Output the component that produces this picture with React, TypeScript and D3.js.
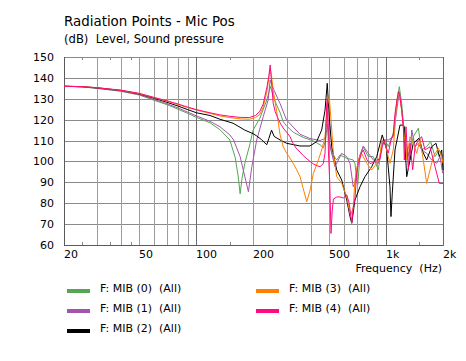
import React from "react";
import * as d3 from "d3";

// curve data (Hz / dB)
const mib0Freq = [20, 25, 30, 40, 50, 60, 70, 80, 90, 100, 118, 133, 150, 160, 166, 170, 174, 180, 192, 199, 216, 235, 241, 245, 249, 257, 265, 276, 287, 299, 324, 366, 414, 449, 467, 480, 490, 500, 517, 550, 572, 621, 672, 686, 700, 710, 730, 759, 807, 858, 911, 950, 988, 1029, 1093, 1140, 1176, 1211, 1261, 1287, 1339, 1394, 1482, 1544, 1640, 1722, 1814, 1912, 2000];
const mib0Level = [136, 135.7, 135, 133.6, 131.8, 129.2, 127.2, 125, 123, 121.1, 118.5, 115.2, 110.3, 102, 93, 84.5, 92, 99.1, 108.7, 115, 120.7, 129.4, 133, 136, 134, 130, 127, 123.5, 119, 117, 114, 111.5, 109.8, 108, 106.5, 110, 118, 110, 103.9, 100.7, 103.1, 101.5, 100.7, 99, 92, 89, 103, 106.8, 102.3, 102.3, 95.9, 107.1, 110.3, 107.1, 113.5, 127.8, 135.8, 127.8, 108.7, 100.7, 105.5, 111.8, 115.9, 105.5, 107.1, 109.5, 102.3, 105.5, 102.3];

const mib1Freq = [20, 25, 30, 40, 50, 60, 70, 80, 90, 100, 118, 133, 150, 157, 170, 180, 188, 196, 208, 225, 239, 245, 249, 257, 276, 299, 352, 397, 449, 477, 490, 502, 517, 538, 561, 584, 621, 646, 672, 686, 715, 759, 807, 858, 911, 968, 1029, 1093, 1140, 1176, 1211, 1250, 1287, 1339, 1368, 1424, 1482, 1544, 1640, 1744, 1853, 1929, 1993];
const mib1Level = [136, 135.7, 135, 133.7, 132, 129.6, 127.6, 125.6, 123.6, 121.8, 119.2, 116.6, 112.7, 110.3, 102.3, 92.7, 85.5, 97.5, 110.3, 121.4, 129.4, 139, 137, 134, 127.8, 119.8, 113, 111, 110, 111, 124, 110, 104, 97.5, 100.7, 103.9, 102.3, 99.1, 87.9, 89.5, 100.7, 107.4, 103.9, 100.7, 99.1, 110.3, 110.3, 111.8, 124.6, 133.4, 124.6, 111.8, 107.1, 100.7, 115.1, 107.1, 108.7, 105.5, 103.9, 100.7, 99.1, 102.3, 94.3];

const mib2Freq = [20, 25, 30, 40, 50, 60, 70, 80, 90, 100, 118, 133, 156, 180, 199, 208, 220, 235, 241, 249, 257, 276, 299, 352, 397, 431, 458, 477, 490, 502, 517, 550, 584, 621, 646, 660, 686, 730, 775, 841, 894, 956, 1009, 1050, 1063, 1080, 1116, 1186, 1235, 1250, 1261, 1287, 1339, 1394, 1494, 1563, 1640, 1744, 1838, 1912, 1969, 2000];
const mib2Level = [136, 135.8, 135.2, 134, 132.3, 130.2, 128.3, 126.5, 124.8, 123.3, 122, 120.2, 118.3, 115, 113.3, 112.2, 110.5, 108, 111, 115, 112, 110.3, 108.7, 107.4, 107.4, 109.5, 115.1, 124.6, 137.4, 121.4, 107.1, 95.9, 91.1, 81.5, 73.6, 70.4, 81.5, 87.9, 92.7, 97.5, 102.3, 112.7, 105.5, 87.9, 73.6, 84.8, 105.5, 117.4, 117.4, 116.6, 107.1, 92.7, 100.7, 108.7, 111.1, 104.7, 100.7, 107.1, 108.7, 102.3, 105.5, 95.9];

const mib3Freq = [20, 25, 30, 40, 50, 60, 70, 80, 90, 100, 118, 133, 150, 170, 190, 205, 216, 225, 236, 241, 245, 249, 254, 265, 276, 287, 299, 312, 324, 338, 352, 366, 382, 398, 414, 440, 458, 477, 490, 502, 513, 528, 550, 584, 621, 650, 672, 686, 715, 743, 792, 841, 894, 930, 950, 988, 1029, 1050, 1093, 1140, 1174, 1211, 1250, 1276, 1287, 1339, 1394, 1453, 1512, 1574, 1640, 1708, 1778, 1889, 1969, 2000];
const mib3Level = [136, 135.8, 135.3, 134, 132.4, 130.5, 128.8, 127.2, 125.8, 124.6, 123, 121.8, 121, 120.4, 120.2, 121, 122.5, 126, 134, 140, 144.5, 141, 134, 124, 113, 107, 104, 101.5, 99, 96, 92.7, 87, 80.7, 86.3, 94.3, 100.7, 105.5, 111.8, 126.2, 131, 119.8, 103.9, 92.7, 89.5, 83.1, 74, 78, 91.1, 100.7, 103.9, 99.1, 95.9, 99.1, 102.3, 110.3, 108.7, 102.3, 99.1, 105.5, 129.4, 132.6, 124.6, 111.8, 107, 100.7, 111.8, 108.7, 103.9, 110.3, 100.7, 89.5, 95.9, 102.3, 106.3, 102.3, 99.1];

const mib4Freq = [20, 25, 30, 40, 50, 60, 70, 80, 90, 100, 118, 133, 150, 170, 190, 205, 216, 225, 236, 241, 245, 249, 254, 260, 268, 276, 287, 299, 312, 324, 338, 352, 366, 382, 398, 414, 431, 449, 467, 477, 487, 492, 497, 505, 513, 520, 528, 550, 573, 596, 621, 640, 660, 672, 686, 700, 715, 743, 759, 792, 824, 858, 894, 930, 956, 980, 1009, 1029, 1063, 1093, 1116, 1162, 1186, 1211, 1235, 1250, 1276, 1312, 1339, 1384, 1424, 1482, 1544, 1607, 1708, 1778, 1853, 1912, 2000];
const mib4Level = [136, 135.8, 135.3, 134.1, 132.6, 130.6, 129, 127.5, 126, 124.8, 123.3, 122.3, 121.6, 121.1, 121, 122, 124, 127.5, 136, 141, 146.2, 138, 128, 124, 121, 118.5, 116, 114, 111.8, 108.5, 106, 104.5, 102.8, 101.3, 100, 98.8, 98, 97.5, 99, 104, 128, 130, 105, 90, 65.5, 76, 82, 83, 83, 82.5, 84, 80, 70.5, 78, 82, 94, 99, 104, 105.5, 101, 99, 99.5, 100.7, 101, 107, 110, 106, 104, 110, 113, 123, 133.4, 131, 124.6, 116.6, 100.7, 116.6, 96, 108.7, 96, 107, 110.3, 111.8, 105.5, 107, 100.7, 94.3, 89.5, 89.5];

const seriesNames = ["F: MIB (0)  (All)", "F: MIB (1)  (All)", "F: MIB (2)  (All)", "F: MIB (3)  (All)", "F: MIB (4)  (All)"];
const seriesColors = ["#55a555", "#a454ac", "#000000", "#ff8000", "#ff0a80"];

const yTicks = [60, 70, 80, 90, 100, 110, 120, 130, 140, 150];
const xTickValues = [20, 50, 100, 200, 500, 1000, 2000];
const xTickLabels = ["20", "50", "100", "200", "500", "1k", "2k"];
const xMinorGrid = [30, 40, 50, 60, 70, 80, 90, 200, 300, 400, 500, 600, 700, 800, 900, 2000];
const xMajorGrid = [100, 1000];
const xSmallTicks = [25, 35, 45, 150, 1500];

const W = 466;
const H = 361;
const left = 64, right = 443, top = 57, bottom = 245;
const font = "'DejaVu Sans', Verdana, sans-serif";

export default function App() {
  const x = d3.scaleLog().domain([20, 2000]).range([left, right]);
  const y = d3.scaleLinear().domain([60, 150]).range([bottom, top]);
  const px = (v: number) => Math.round(x(v)) + 0.5;
  const py = (v: number) => Math.round(y(v)) + 0.5;

  const series = [
    { f: mib0Freq, l: mib0Level },
    { f: mib1Freq, l: mib1Level },
    { f: mib2Freq, l: mib2Level },
    { f: mib3Freq, l: mib3Level },
    { f: mib4Freq, l: mib4Level },
  ];

  const line = d3
    .line<[number, number]>()
    .x((d) => x(d[0]))
    .y((d) => y(d[1]));

  // legend slots: two columns
  const legendPos = [
    [67, 289], [67, 309], [67, 329],
    [256, 289], [256, 309],
  ];

  return (
    <svg
      width={W}
      height={H}
      style={{ position: "absolute", left: 0, top: 0, background: "#fff" }}
      fontFamily={font}
    >
      <rect x={0} y={0} width={W} height={H} fill="#fff" />
      <text x={64} y={26} fontSize={13.4} fill="#000">Radiation Points - Mic Pos</text>
      <text x={64} y={43} fontSize={11.6} fill="#000" style={{ whiteSpace: "pre" }}>
        (dB)  Level, Sound pressure
      </text>

      <defs>
        <clipPath id="plot">
          <rect x={left} y={top} width={right - left + 1} height={bottom - top + 1} />
        </clipPath>
      </defs>

      {/* grid */}
      {yTicks.map((t) => (
        <line key={"h" + t} x1={left} x2={right + 1} y1={py(t)} y2={py(t)} stroke="#8a8a8a" />
      ))}
      {xMinorGrid.map((t) => (
        <line key={"v" + t} x1={px(t)} x2={px(t)} y1={top} y2={bottom + 1} stroke="#9c9c9c" />
      ))}
      {xMajorGrid.map((t) => (
        <line key={"m" + t} x1={px(t)} x2={px(t)} y1={top} y2={bottom + 1} stroke="#6a6a6a" />
      ))}
      {xSmallTicks.map((t) => (
        <g key={"t" + t}>
          <line x1={px(t)} x2={px(t)} y1={top} y2={top + 3} stroke="#8a8a8a" />
          <line x1={px(t)} x2={px(t)} y1={bottom - 3} y2={bottom} stroke="#8a8a8a" />
        </g>
      ))}
      <line x1={left + 0.5} x2={left + 0.5} y1={top} y2={bottom + 1} stroke="#5a5a5a" />
      <line x1={left} x2={right + 1} y1={bottom + 0.5} y2={bottom + 0.5} stroke="#5a5a5a" />
      <line x1={right + 0.5} x2={right + 0.5} y1={top} y2={bottom + 1} stroke="#6a6a6a" />

      {/* curves */}
      <g clipPath="url(#plot)">
        {series.map((s, i) => (
          <path
            key={i}
            d={line(s.f.map((f, k) => [f, s.l[k]] as [number, number])) || ""}
            fill="none"
            stroke={seriesColors[i]}
            strokeWidth={1}
            strokeLinejoin="round"
          />
        ))}
      </g>

      {/* axes text */}
      {yTicks.map((t) => (
        <text key={"yl" + t} x={54} y={Math.round(y(t)) + 4} fontSize={11} textAnchor="end" fill="#000">
          {t}
        </text>
      ))}
      {xTickValues.map((t, i) => (
        <text key={"xl" + t} x={Math.round(x(t))} y={258} fontSize={11} fill="#000">
          {xTickLabels[i]}
        </text>
      ))}
      <text x={442} y={272} fontSize={11} textAnchor="end" fill="#000" style={{ whiteSpace: "pre" }}>
        Frequency  (Hz)
      </text>

      {/* legend */}
      {seriesNames.map((name, i) => (
        <g key={"lg" + i}>
          <rect x={legendPos[i][0]} y={legendPos[i][1]} width={23} height={4} fill={seriesColors[i]} />
          <text
            x={legendPos[i][0] + 33}
            y={legendPos[i][1] + 3}
            fontSize={11}
            fill="#000"
            style={{ whiteSpace: "pre" }}
          >
            {name}
          </text>
        </g>
      ))}
    </svg>
  );
}
